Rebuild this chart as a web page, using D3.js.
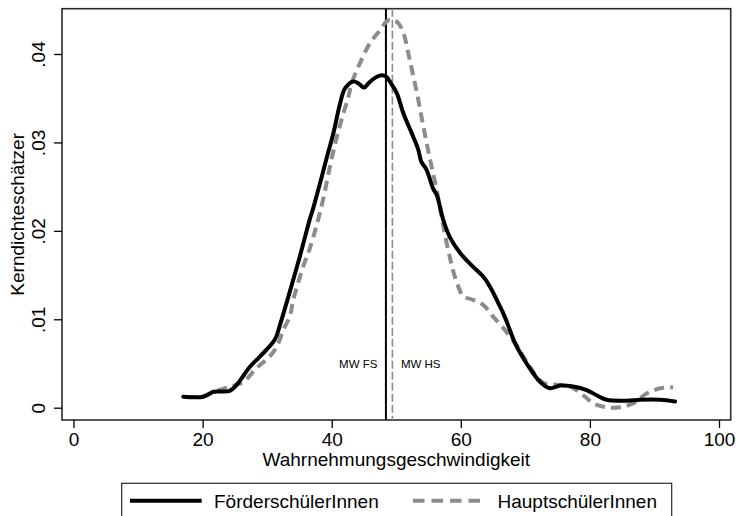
<!DOCTYPE html>
<html>
<head>
<meta charset="utf-8">
<script src="https://cdn.jsdelivr.net/npm/d3@7/dist/d3.min.js"></script>
<style>
  html, body { margin: 0; padding: 0; background: #fff; }
  svg { display: block; font-family: "Liberation Sans", Arial, Helvetica, sans-serif; }
</style>
</head>
<body>
<svg id="chart" width="736" height="516"></svg>
<script>
// ---- Data ----
const xTicks = [0, 20, 40, 60, 80, 100];
const yTicks = [0, 0.01, 0.02, 0.03, 0.04];
const yTickLabels = ["0", ".01", ".02", ".03", ".04"];

const seriesNames = ["FörderschülerInnen", "HauptschülerInnen"];
const meanLabels = ["MW FS", "MW HS"];
const meanValues = [48.4, 49.4];

// FörderschülerInnen (solid black)
const fsX = [17.0, 20.1, 21.7, 24.2, 25.3, 27.3, 28.9, 31.2, 32.0, 33.5, 35.1, 36.6, 37.15, 38.2, 38.7, 39.5, 40.25, 41.3, 42.06, 43.35, 44.1, 45.0, 45.7, 46.7, 47.75, 48.5, 49.0, 50.07, 51.1, 52.6, 53.4, 53.9, 54.7, 55.7, 56.3, 57.3, 58.3, 59.9, 61.4, 63.5, 64.5, 66.1, 66.8, 67.6, 68.4, 70.2, 72.3, 73.8, 75.4, 77.4, 79.5, 81.05, 82.6, 85.7, 87.8, 90.9, 93.2];
const fsY = [0.00124, 0.00124, 0.0018, 0.0019, 0.0026, 0.0046, 0.0058, 0.0077, 0.0094, 0.0131, 0.0172, 0.0213, 0.0226, 0.0254, 0.0268, 0.0290, 0.0310, 0.0344, 0.0361, 0.0369, 0.0367, 0.0362, 0.0367, 0.0373, 0.0376, 0.0374, 0.0369, 0.0356, 0.0333, 0.0307, 0.0292, 0.0278, 0.0269, 0.0248, 0.0240, 0.0212, 0.0193, 0.0175, 0.0163, 0.0148, 0.0137, 0.0114, 0.0103, 0.0088, 0.0073, 0.0050, 0.0029, 0.0022, 0.0025, 0.0024, 0.0020, 0.0014, 0.0009, 0.0008, 0.0009, 0.0009, 0.0007];

// HauptschülerInnen (dashed grey)
const hsX = [17.5, 20.1, 21.7, 23.5, 25.3, 26.3, 28.4, 30.4, 31.5, 32.5, 33.5, 34.05, 35.6, 36.6, 38.3, 40.25, 41.5, 42.6, 43.1, 44.4, 45.9, 47.5, 48.5, 49.3, 50.3, 51.1, 52.1, 53.2, 54.2, 55.2, 56.3, 57.3, 58.4, 59.4, 60.4, 61.9, 63.5, 65.0, 66.6, 68.7, 70.7, 72.8, 74.9, 76.9, 79.0, 80.5, 82.6, 84.7, 86.7, 88.8, 90.9, 92.9];
const hsY = [0.0012, 0.0013, 0.0018, 0.0022, 0.0026, 0.0029, 0.0045, 0.0058, 0.0069, 0.0088, 0.0103, 0.0122, 0.0160, 0.0180, 0.0224, 0.0290, 0.0325, 0.0352, 0.0367, 0.0390, 0.0412, 0.0427, 0.0437, 0.0439, 0.0435, 0.0424, 0.0393, 0.0356, 0.0318, 0.0282, 0.0245, 0.0205, 0.0167, 0.0141, 0.0126, 0.0122, 0.0116, 0.0103, 0.0090, 0.0070, 0.0046, 0.0028, 0.0026, 0.0024, 0.0014, 0.0005, 0.00005, 0.00005, 0.0005, 0.0016, 0.0022, 0.0023];

// ---- Layout ----
const svg = d3.select("#chart");
const frame = { left: 62, top: 8.7, right: 730.7, bottom: 420 };
const x = d3.scaleLinear().domain([0, 100]).range([73.5, 719]);
const y = d3.scaleLinear().domain([0, 0.04]).range([407.7, 54]);
const grey = "#8c8c8c";
const fontSize = 19;

// Frame
svg.append("rect")
  .attr("x", frame.left).attr("y", frame.top)
  .attr("width", frame.right - frame.left).attr("height", frame.bottom - frame.top)
  .attr("fill", "none").attr("stroke", "#2b2b2b").attr("stroke-width", 1.6);

// X axis
const xAxis = svg.append("g")
  .attr("transform", `translate(0,${frame.bottom})`)
  .call(d3.axisBottom(x).tickValues(xTicks).tickSize(8).tickPadding(5).tickFormat(d3.format("d")));
xAxis.select(".domain").remove();
xAxis.selectAll(".tick line").attr("stroke", "#000").attr("stroke-width", 1.3);
xAxis.selectAll(".tick text")
  .attr("font-size", fontSize).attr("fill", "#000")
  .attr("font-family", "Liberation Sans, Arial, sans-serif");

// Y axis
const yAxis = svg.append("g")
  .attr("transform", `translate(${frame.left},0)`)
  .call(d3.axisLeft(y).tickValues(yTicks).tickSize(8).tickFormat((d, i) => yTickLabels[i]));
yAxis.select(".domain").remove();
yAxis.selectAll(".tick line").attr("stroke", "#000").attr("stroke-width", 1.3);
yAxis.selectAll(".tick text")
  .attr("font-size", fontSize).attr("fill", "#000")
  .attr("font-family", "Liberation Sans, Arial, sans-serif")
  .attr("x", null).attr("dy", null)
  .attr("text-anchor", "middle")
  .attr("transform", "translate(-17.5,0) rotate(-90)");

// Axis titles
svg.append("text")
  .attr("x", (x(0) + x(100)) / 2 + 0).attr("y", 466)
  .attr("text-anchor", "middle").attr("font-size", fontSize).attr("fill", "#000")
  .text("Wahrnehmungsgeschwindigkeit");
svg.append("text")
  .attr("transform", `translate(23.5,${(frame.top + frame.bottom) / 2}) rotate(-90)`)
  .attr("text-anchor", "middle").attr("font-size", fontSize).attr("fill", "#000")
  .text("Kerndichteschätzer");

// Mean lines
const plot = svg.append("g");
plot.append("line")
  .attr("x1", x(meanValues[0])).attr("x2", x(meanValues[0]))
  .attr("y1", frame.top).attr("y2", frame.bottom)
  .attr("stroke", "#000").attr("stroke-width", 2);
plot.append("line")
  .attr("x1", x(meanValues[1])).attr("x2", x(meanValues[1]))
  .attr("y1", frame.top).attr("y2", frame.bottom)
  .attr("stroke", grey).attr("stroke-width", 1.6).attr("stroke-dasharray", "8,3");
plot.append("text")
  .attr("x", x(meanValues[0]) - 8.5).attr("y", 368)
  .attr("text-anchor", "end").attr("font-size", 11.5).attr("fill", "#000")
  .text(meanLabels[0]);
plot.append("text")
  .attr("x", x(meanValues[1]) + 8.5).attr("y", 368)
  .attr("text-anchor", "start").attr("font-size", 11.5).attr("fill", "#000")
  .text(meanLabels[1]);

// Density curves
const line = d3.line().x(d => x(d[0])).y(d => y(d[1])).curve(d3.curveCatmullRom.alpha(0.5));
const hsData = hsX.map((v, i) => [v, hsY[i]]);
const fsData = fsX.map((v, i) => [v, fsY[i]]);
plot.append("path").datum(hsData)
  .attr("d", line).attr("fill", "none")
  .attr("stroke", grey).attr("stroke-width", 4).attr("stroke-dasharray", "10,6");
plot.append("path").datum(fsData)
  .attr("d", line).attr("fill", "none")
  .attr("stroke", "#000").attr("stroke-width", 4).attr("stroke-linejoin", "round").attr("stroke-linecap", "round");

// Legend
const lg = svg.append("g");
lg.append("rect")
  .attr("x", 121.7).attr("y", 483.3).attr("width", 550).attr("height", 60)
  .attr("fill", "#fff").attr("stroke", "#2b2b2b").attr("stroke-width", 1.2);
const legendY = 500.7;
lg.append("line").attr("x1", 130).attr("x2", 201.7).attr("y1", legendY).attr("y2", legendY)
  .attr("stroke", "#000").attr("stroke-width", 4);
lg.append("text").attr("x", 214).attr("y", 508.3).attr("font-size", fontSize).attr("fill", "#000")
  .text(seriesNames[0]);
lg.append("line").attr("x1", 413).attr("x2", 485).attr("y1", legendY).attr("y2", legendY)
  .attr("stroke", grey).attr("stroke-width", 4).attr("stroke-dasharray", "11.5,7");
lg.append("text").attr("x", 497.5).attr("y", 508.3).attr("font-size", fontSize).attr("fill", "#000")
  .text(seriesNames[1]);
</script>
</body>
</html>
